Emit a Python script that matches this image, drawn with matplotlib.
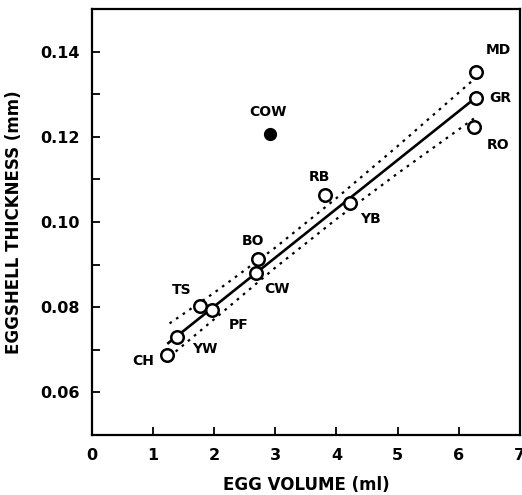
import matplotlib
matplotlib.use("Agg")
import matplotlib.pyplot as plt
from matplotlib.ticker import MultipleLocator

plt.rcParams['font.family'] = ['DejaVu Sans']

# species data
species = ['CH', 'YW', 'TS', 'PF', 'CW', 'BO', 'RB', 'YB', 'MD', 'GR', 'RO']
egg_volume = [1.23, 1.40, 1.77, 1.97, 2.68, 2.71, 3.81, 4.22, 6.28, 6.28, 6.25]
thickness = [0.0689, 0.0730, 0.0802, 0.0793, 0.0880, 0.0913, 0.1063, 0.1044, 0.1353, 0.1292, 0.1224]

# outlier (filled)
cow_volume = [2.91]
cow_thickness = [0.1206]

# regression line and confidence band
fit_x = [1.25, 6.28]
fit_y = [0.0716, 0.1292]
band_x = [1.27, 2.0, 3.0, 4.0, 5.0, 6.25]
band_upper = [0.0762, 0.0834, 0.0940, 0.1056, 0.1178, 0.1335]
band_lower = [0.0684, 0.0772, 0.0893, 0.1007, 0.1114, 0.1243]

# label offsets in pixels (layout only)
label_offsets = {
    'CH': (-24, -6), 'YW': (27, -12), 'TS': (-18, 16), 'PF': (26, -15),
    'CW': (21, -16), 'BO': (-5, 18), 'RB': (-5, 18), 'YB': (21, -16),
    'MD': (22, 22), 'GR': (24, 0), 'RO': (24, -18),
}

fig = plt.figure(figsize=(5.22, 4.95), dpi=100)
ax = fig.add_axes([0.176, 0.121, 0.820, 0.861])

ax.plot(fit_x, fit_y, color='black', lw=1.9, zorder=2)
ax.plot(band_x, band_upper, color='black', lw=1.6, linestyle=(0, (1.2, 2.4)), zorder=2)
ax.plot(band_x, band_lower, color='black', lw=1.6, linestyle=(0, (1.2, 2.4)), zorder=2)

ax.plot(egg_volume, thickness, 'o', ms=9, mfc='white', mec='black', mew=1.8, zorder=3)
ax.plot(cow_volume, cow_thickness, 'o', ms=8.5, color='black', zorder=3)

for name, xv, yv in zip(species, egg_volume, thickness):
    dx, dy = label_offsets[name]
    ax.annotate(name, (xv, yv), xytext=(dx, dy), textcoords='offset pixels',
                ha='center', va='center', fontsize=10, fontweight='bold')
ax.annotate('COW', (cow_volume[0], cow_thickness[0]), xytext=(-2, 22),
            textcoords='offset pixels', ha='center', va='center',
            fontsize=10, fontweight='bold')

ax.set_xlim(0, 7)
ax.set_ylim(0.05, 0.15)
ax.xaxis.set_major_locator(MultipleLocator(1))
ax.yaxis.set_minor_locator(MultipleLocator(0.01))
ax.set_yticks([0.06, 0.08, 0.10, 0.12, 0.14])
ax.set_yticklabels(['0.06', '0.08', '0.10', '0.12', '0.14'])
ax.tick_params(which='both', direction='in', width=1.3, labelsize=11.5, pad=9)
ax.tick_params(which='major', length=6)
ax.tick_params(which='minor', length=6)
for lab in ax.get_xticklabels() + ax.get_yticklabels():
    lab.set_fontweight('bold')

for s in ax.spines.values():
    s.set_linewidth(1.6)

ax.set_xlabel('EGG VOLUME (ml)', fontsize=12, fontweight='bold', labelpad=10)
ax.set_ylabel('EGGSHELL THICKNESS (mm)', fontsize=12, fontweight='bold', labelpad=12)

fig.savefig('out.png', dpi=100)
